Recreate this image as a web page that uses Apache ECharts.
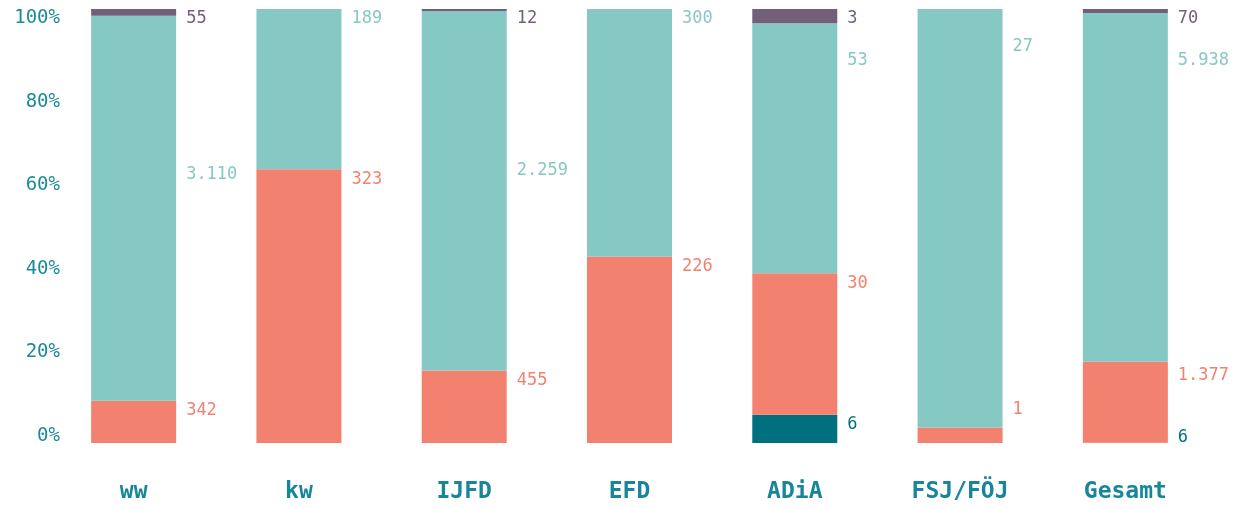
<!DOCTYPE html>
<html>
<head>
<meta charset="utf-8">
<script src="https://cdn.jsdelivr.net/npm/echarts@6/dist/echarts.min.js"></script>
<style>
  html, body { margin: 0; padding: 0; background: #fff; }
  #chart { width: 1239px; height: 508px; }
</style>
</head>
<body>
<div id="chart"></div>
<script>
const categories = ['ww', 'kw', 'IJFD', 'EFD', 'ADiA', 'FSJ/FÖJ', 'Gesamt'];
const seriesNames = ['Gruppe 1', 'Gruppe 2', 'Gruppe 3', 'Gruppe 4'];
const group1 = [0, 0, 0, 0, 6, 0, 6];
const group2 = [342, 323, 455, 226, 30, 1, 1377];
const group3 = [3110, 189, 2259, 300, 53, 27, 5938];
const group4 = [55, 0, 12, 0, 3, 0, 70];
const yTicks = [0, 20, 40, 60, 80, 100];

const colors = ['#00707f', '#f38170', '#86c8c4', '#735f7a'];
// extra vertical nudges (px) for labels the original moved by hand
const labelShift = {
    '2-0': 149, '2-2': 150, '2-4': 27, '2-5': 28, '2-6': 37,
    '1-5': -28, '1-6': 4, '0-6': -15,
};

const groups = [group1, group2, group3, group4];
const totals = categories.map((_, i) => groups.reduce((s, g) => s + g[i], 0));
const fmt = (v) => String(v).replace(/\B(?=(\d{3})+(?!\d))/g, '.');
const font = '"DejaVu Sans Mono", monospace';

const chart = echarts.init(document.getElementById('chart'), null, { renderer: 'canvas' });

const series = groups.map((g, si) => ({
    name: seriesNames[si],
    type: 'bar',
    stack: 'total',
    barWidth: 85,
    yAxisIndex: 0,
    itemStyle: { color: colors[si] },
    data: g.map((v, i) => ({
        value: (v / totals[i]) * 100,
        raw: v,
        label: {
            show: v > 0,
            offset: [10, 10 + (labelShift[si + '-' + i] || 0)],
        },
    })),
    label: {
        position: ['100%', 0],
        align: 'left',
        verticalAlign: 'middle',
        color: colors[si],
        fontFamily: font,
        fontSize: 17,
        formatter: (p) => fmt(p.data.raw),
    },
}));

chart.setOption({
    animation: false,
    grid: { left: 51, right: 31, top: 9, bottom: 65 },
    xAxis: {
        type: 'category',
        data: categories,
        axisLine: { show: false },
        axisTick: { show: false },
        axisLabel: {
            margin: 38,
            color: '#17869a',
            fontFamily: font,
            fontWeight: 'bold',
            fontSize: 23,
        },
    },
    yAxis: [
        {
            type: 'value',
            min: 0,
            max: 100,
            show: false,
        },
        {
            // tick labels in the original sit slightly inside the bar range
            type: 'value',
            position: 'left',
            min: -1.675,
            max: 102.15,
            splitLine: { show: false },
            axisLine: { show: false },
            axisTick: { show: false },
            axisLabel: {
                margin: -9,
                color: '#1b8b98',
                fontFamily: font,
                fontSize: 19,
                customValues: yTicks,
                formatter: (v) => v + '%',
            },
        },
    ],
    series: series,
});
</script>
</body>
</html>
